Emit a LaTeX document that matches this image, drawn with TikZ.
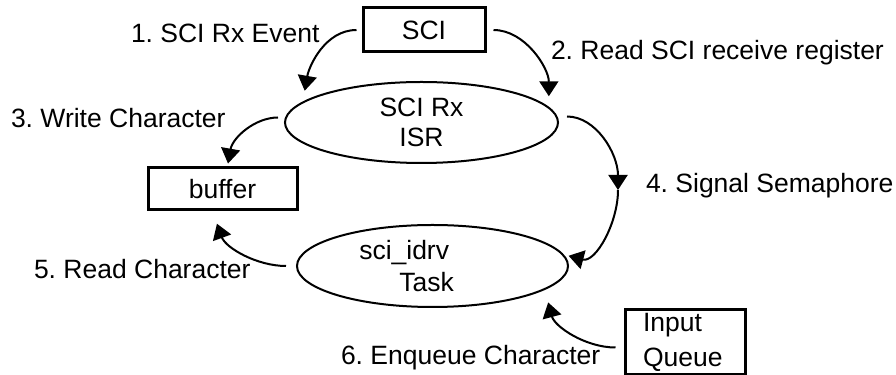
\documentclass[tikz,border=0pt]{standalone}
\usepackage{fontspec}
\setmainfont{Liberation Sans}
\usetikzlibrary{shapes,arrows.meta}
\frenchspacing

\begin{document}
\begin{tikzpicture}[->,>={Triangle[length=7.5pt,width=9.5pt]},line width=1pt,x=0.5pt,y=0.5pt,
  font=\fontsize{13.25}{15}\selectfont]
\tikzstyle{box}=[draw,rectangle,line width=1.5pt,inner sep=0pt]
\tikzstyle{proc}=[draw,ellipse,line width=1pt,inner sep=0pt,align=center]
\tikzstyle{note}=[inner sep=0pt,anchor=base west]
\useasboundingbox (0,0) rectangle (896,375);
\node[box,minimum width=61pt,minimum height=22pt] (sci) at (424,345) {SCI};
\node[proc,minimum width=136.5pt,minimum height=40.5pt] (isr) at (421.5,252.5) {SCI Rx\\ISR};
\node[box,minimum width=74.5pt,minimum height=21pt] (buffer) at (222.5,186) {buffer};
\node[proc,minimum width=135.5pt,minimum height=41pt,
  label={[align=left,xshift=-13pt,font=\fontsize{13.25}{16}\selectfont]center:sci\_idrv\\\hspace*{20pt}Task}] (task) at (432.5,109) {};
\node[box,text width=42pt,inner xsep=9pt,minimum height=32.5pt,align=left,
  font=\fontsize{13.25}{17.5}\selectfont] (inq) at (685,33) {Input\\Queue};
\coordinate (sem) at (618,185);
% labels
\node[note] (ev1) at (130,332) {1. SCI Rx Event};
\node[note] (ev2) at (550,315) {2. Read SCI receive register};
\node[note] (ev3) at (10,247) {3. Write Character};
\node[note] (ev4) at (645,182) {4. Signal Semaphore};
\node[note] (ev5) at (33,96) {5. Read Character};
\node[note] (ev6) at (340,10) {6. Enqueue Character};
% arrows
\path (sci.west) edge[out=180,in=80,shorten <=2.5pt,shorten >=5.5pt] (isr.170)
      (sci.east) edge[out=0,in=90,shorten <=3.5pt,shorten >=5.3pt] (isr.7.5)
      ([yshift=2.5pt]isr.west) edge[out=180,in=80,shorten <=3pt,shorten >=1.5pt] ([xshift=2.5pt]buffer.north)
      ([yshift=3pt]isr.east) edge[out=0,in=90,shorten <=4pt] (sem)
      (sem) edge[out=-90,in=-15,shorten >=2.5pt] (task.5)
      (task.west) edge[out=180,in=-70,shorten <=5pt,shorten >=6.5pt] ([xshift=-5pt]buffer.south)
      ([yshift=-2.75pt]inq.west) edge[out=180,in=-75,shorten <=4pt,shorten >=6.5pt] (task.-12);
\end{tikzpicture}
\end{document}
